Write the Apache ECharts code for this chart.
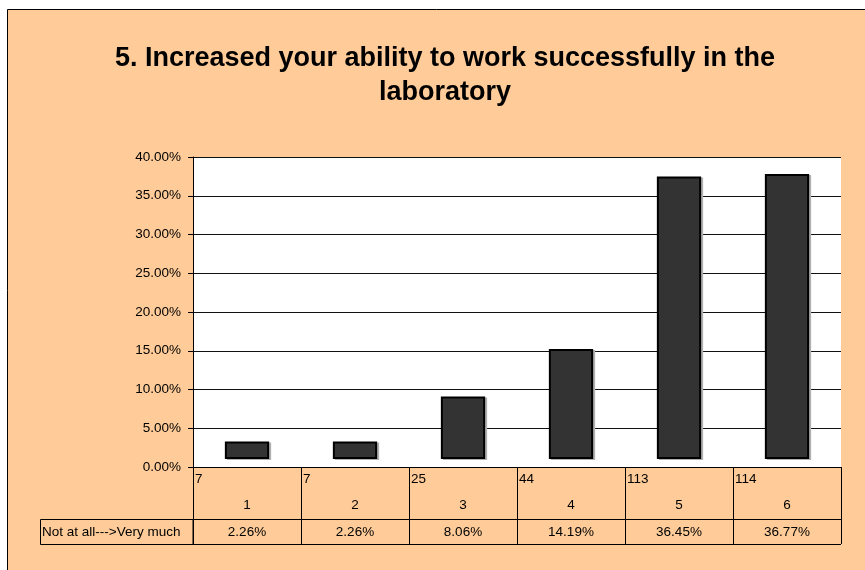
<!DOCTYPE html>
<html>
<head>
<meta charset="utf-8">
<script src="https://cdn.jsdelivr.net/npm/echarts@6/dist/echarts.min.js"></script>
<style>
html,body{margin:0;padding:0;background:#fff;}
#chart{width:865px;height:570px;}
</style>
</head>
<body>
<div id="chart"></div>
<script>
const titleText = '5. Increased your ability to work successfully in the\nlaboratory';
const categories = ['1', '2', '3', '4', '5', '6'];
const counts = [7, 7, 25, 44, 113, 114];
const percents = [0.0226, 0.0226, 0.0806, 0.1419, 0.3645, 0.3677];
const percentLabels = ['2.26%', '2.26%', '8.06%', '14.19%', '36.45%', '36.77%'];
const rowHeader = 'Not at all--->Very much';
const yTicks = { min: 0, max: 0.4, interval: 0.05 };

const FONT = '"Liberation Sans", Arial, sans-serif';
const chart = echarts.init(document.getElementById('chart'), null, { renderer: 'canvas' });

const option = {
  backgroundColor: '#ffffff',
  animation: false,
  title: {
    text: titleText,
    left: 440,
    top: 37,
    textAlign: 'center',
    textStyle: { fontFamily: FONT, fontSize: 27, fontWeight: 'bold', color: '#000', lineHeight: 33.4 }
  },
  graphic: [
    { type: 'rect', z: -10, silent: true,
      shape: { x: 7.5, y: 9.5, width: 900, height: 600 },
      style: { fill: '#FFCC99', stroke: '#000', lineWidth: 1 } },
    { type: 'rect', z: 5, silent: true,
      shape: { x: 40.5, y: 519.5, width: 152.5, height: 25 },
      style: { fill: 'none', stroke: '#000', lineWidth: 1 } },
    { type: 'line', z: 5, silent: true,
      shape: { x1: 193, y1: 519.5, x2: 841, y2: 519.5 },
      style: { stroke: '#000', lineWidth: 1 } },
    { type: 'line', z: 5, silent: true,
      shape: { x1: 193, y1: 544.5, x2: 841, y2: 544.5 },
      style: { stroke: '#000', lineWidth: 1 } },
    { type: 'text', z: 6, silent: true,
      style: { x: 42, y: 532, text: rowHeader, textVerticalAlign: 'middle', textAlign: 'left',
        font: '13.5px ' + FONT, fill: '#000' } }
  ],
  grid: {
    left: 193, top: 157, width: 648, height: 310,
    show: true, backgroundColor: '#ffffff', borderWidth: 0
  },
  xAxis: {
    type: 'category',
    data: categories,
    boundaryGap: true,
    axisLine: { show: true, lineStyle: { color: '#000', width: 1 } },
    axisTick: { show: true, inside: false, length: 77, alignWithLabel: false, interval: 0,
      lineStyle: { color: '#000', width: 1 } },
    splitLine: { show: false },
    axisLabel: {
      interval: 0,
      margin: 2,
      fontFamily: FONT,
      fontSize: 13.5,
      color: '#000',
      formatter: function (v, i) {
        return '{c|' + counts[i] + '}\n{n|' + categories[i] + '}\n{p|' + percentLabels[i] + '}';
      },
      rich: {
        c: { width: 104, align: 'left', lineHeight: 20, fontFamily: FONT, fontSize: 13.5, color: '#000' },
        n: { width: 104, align: 'center', lineHeight: 33, fontFamily: FONT, fontSize: 13.5, color: '#000' },
        p: { width: 104, align: 'center', lineHeight: 20, fontFamily: FONT, fontSize: 13.5, color: '#000' }
      }
    }
  },
  yAxis: {
    type: 'value',
    min: yTicks.min,
    max: yTicks.max,
    interval: yTicks.interval,
    axisLine: { show: true, lineStyle: { color: '#000', width: 1 } },
    axisTick: { show: true, inside: false, length: 5, lineStyle: { color: '#000' } },
    splitLine: { show: true, lineStyle: { color: '#111', width: 1 } },
    axisLabel: {
      margin: 12,
      fontFamily: FONT,
      fontSize: 13.5,
      color: '#000',
      formatter: function (v) { return (v * 100).toFixed(2) + '%'; }
    }
  },
  series: [{
    type: 'custom',
    coordinateSystem: 'cartesian2d',
    data: percents.map(function (v, i) { return [i, v]; }),
    encode: { x: 0, y: 1 },
    z: 3,
    renderItem: function (params, api) {
      const idx = api.value(0);
      const val = api.value(1);
      const topPt = api.coord([idx, val]);
      const botPt = api.coord([idx, 0]);
      const band = api.size([1, 0])[0];
      const w = band * 0.41;
      const lift = 8; // Excel-style raised bar floor
      const x = topPt[0] - w / 2;
      const y = topPt[1] - lift;
      const h = botPt[1] - topPt[1];
      return {
        type: 'group',
        children: [
          { type: 'rect', shape: { x: x + 2, y: y + 1, width: w, height: h },
            style: { fill: '#b0b0b0' } },
          { type: 'rect', shape: { x: x + 1, y: y + 1, width: w - 2, height: h - 2 },
            style: { fill: '#333333', stroke: '#000', lineWidth: 2 } }
        ]
      };
    }
  }]
};
chart.setOption(option);
</script>
</body>
</html>
